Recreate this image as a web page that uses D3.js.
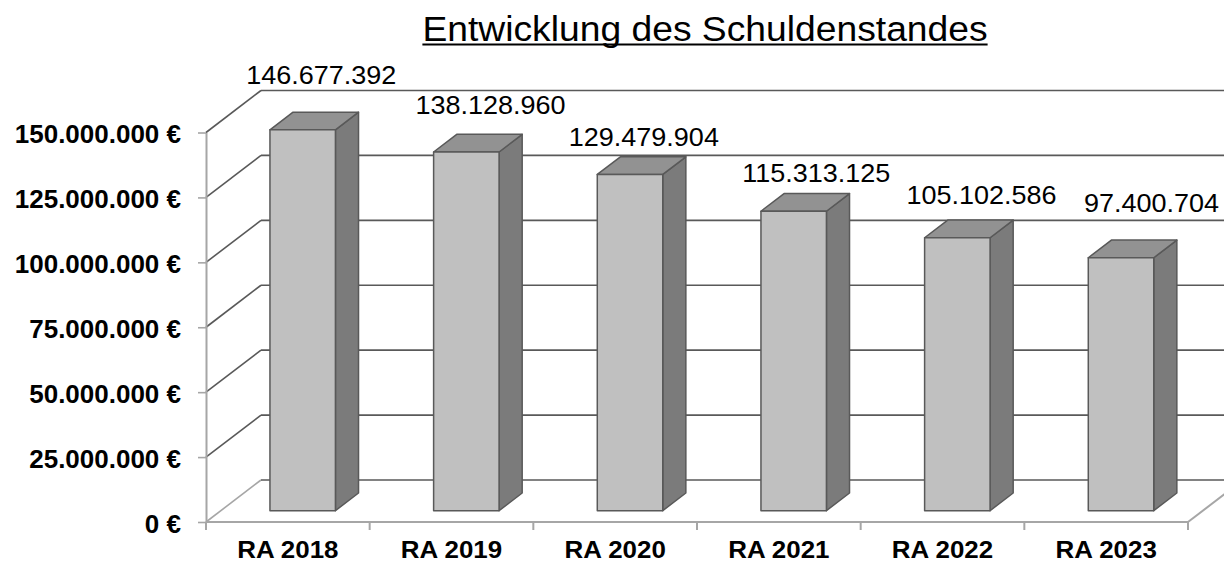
<!DOCTYPE html>
<html>
<head>
<meta charset="utf-8">
<script src="https://cdn.jsdelivr.net/npm/d3@7"></script>
<style>
  html, body { margin: 0; padding: 0; background: #fff; }
  svg { display: block; font-family: "Liberation Sans", Arial, sans-serif; }
</style>
</head>
<body>
<svg id="chart" width="1224" height="566"></svg>
<script>
// ---- data ----
const categories = ["RA 2018", "RA 2019", "RA 2020", "RA 2021", "RA 2022", "RA 2023"];
const debt = [146677392, 138128960, 129479904, 115313125, 105102586, 97400704];
const yTicks = [0, 25000000, 50000000, 75000000, 100000000, 125000000, 150000000];
const title = "Entwicklung des Schuldenstandes";
// label nudges (dx, dy) relative to the top of each bar, as placed in the original
const labelNudge = [[7, -28], [12.5, -20], [2.3, -11], [11, -12], [12.5, -16], [19, -28]];

// ---- layout ----
const W = 1224, H = 566;
const X0 = 206, X1 = 1188;          // front floor edge
const DX = 55, DY = -42;            // depth offset of the back wall
const zF = 0.27, zB = 0.69;         // bar depth range
const STRETCH = 1.08;
const dark = "#595959", light = "#a6a6a6";

const svg = d3.select("#chart");
const de = d3.formatLocale({ decimal: ",", thousands: ".", grouping: [3], currency: ["", " €"] });
const fmt = de.format(",.0f");

const y = d3.scaleLinear().domain([0, 150000000]).range([522, 132.5]);
const x = d3.scaleBand().domain(categories).range([X0, X1]).paddingInner(0.6).paddingOuter(0.3);
const P = (x3, v, z) => [x3 + z * DX, y(v) + z * DY];

function stext(g, tx, ty, str, size, weight, anchor, sx) {
  return g.append("text")
    .attr("transform", `translate(${tx},${ty}) scale(${sx || STRETCH},1)`)
    .attr("text-anchor", anchor)
    .attr("font-size", size)
    .attr("font-weight", weight)
    .attr("fill", "#000")
    .text(str);
}

// ---- walls / gridlines ----
const grid = svg.append("g").attr("stroke-width", 1.6).attr("fill", "none");
yTicks.forEach(t => {
  const a = P(X0, t, 0), b = P(X0, t, 1);
  grid.append("line").attr("x1", a[0]).attr("y1", a[1]).attr("x2", b[0]).attr("y2", b[1])
    .attr("stroke", t === 0 ? light : dark);
  grid.append("line").attr("x1", b[0]).attr("y1", b[1]).attr("x2", W + 5).attr("y2", b[1])
    .attr("stroke", dark);
});
// floor edges
{
  const a = P(X0, 0, 0), b = P(X1, 0, 0), c = P(X1, 0, 1);
  grid.append("line").attr("x1", a[0]).attr("y1", a[1]).attr("x2", b[0]).attr("y2", b[1]).attr("stroke", light).attr("stroke-width", 2);
  grid.append("line").attr("x1", b[0]).attr("y1", b[1]).attr("x2", c[0]).attr("y2", c[1]).attr("stroke", light).attr("stroke-width", 2);
}
// category boundary ticks
d3.range(categories.length + 1).forEach(i => {
  const xx = X0 + i * x.step();
  grid.append("line").attr("x1", xx).attr("x2", xx).attr("y1", y(0)).attr("y2", y(0) + 8)
    .attr("stroke", light).attr("stroke-width", 2);
});

// ---- y axis ----
const YS = 1.04;
const yAxis = d3.axisLeft(y).tickValues(yTicks).tickSize(8).tickSizeOuter(0)
  .tickFormat(d => fmt(d) + " €");
const yg = svg.append("g").attr("transform", `translate(${X0},0)`).call(yAxis);
yg.select(".domain").attr("stroke", light).attr("stroke-width", 2);
yg.selectAll(".tick line").attr("stroke", light).attr("stroke-width", 1.6);
yg.selectAll(".tick text")
  .attr("x", -25 / YS)
  .attr("y", 2)
  .attr("transform", `scale(${YS},1)`)
  .attr("font-size", 25).attr("font-weight", "bold").attr("fill", "#000")
  .attr("font-family", "Liberation Sans, Arial, sans-serif");

// ---- bars ----
const bars = svg.append("g").attr("stroke", dark).attr("stroke-width", 1.5).attr("stroke-linejoin", "round");
categories.forEach((c, i) => {
  const v = debt[i];
  const xl = x(c), xr = x(c) + x.bandwidth();
  const pts = (arr) => arr.map(p => p.join(",")).join(" ");
  // side face
  bars.append("polygon").attr("fill", "#7b7b7b")
    .attr("points", pts([P(xr, 0, zF), P(xr, 0, zB), P(xr, v, zB), P(xr, v, zF)]));
  // top face
  bars.append("polygon").attr("fill", "#929292")
    .attr("points", pts([P(xl, v, zF), P(xr, v, zF), P(xr, v, zB), P(xl, v, zB)]));
  // front face
  bars.append("polygon").attr("fill", "#c0c0c0")
    .attr("points", pts([P(xl, 0, zF), P(xr, 0, zF), P(xr, v, zF), P(xl, v, zF)]));
});

// ---- value labels ----
const lab = svg.append("g");
categories.forEach((c, i) => {
  const v = debt[i];
  const top = P(x(c) + x.bandwidth() / 2, v, (zF + zB) / 2);
  const back = P(x(c), v, zB);
  stext(lab, top[0] + labelNudge[i][0], back[1] + labelNudge[i][1], fmt(v), 25, "normal", "middle");
});

// ---- category labels ----
const cl = svg.append("g");
categories.forEach(c => {
  stext(cl, x(c) + x.bandwidth() / 2, 558, c, 24, "bold", "middle");
});

// ---- title ----
const tt = stext(svg, 705, 41, title, 34.5, "normal", "middle");
const tw = tt.node().getComputedTextLength() * STRETCH;
svg.append("line").attr("x1", 705 - tw / 2).attr("x2", 705 + tw / 2)
  .attr("y1", 44.5).attr("y2", 44.5).attr("stroke", "#000").attr("stroke-width", 2);
</script>
</body>
</html>
